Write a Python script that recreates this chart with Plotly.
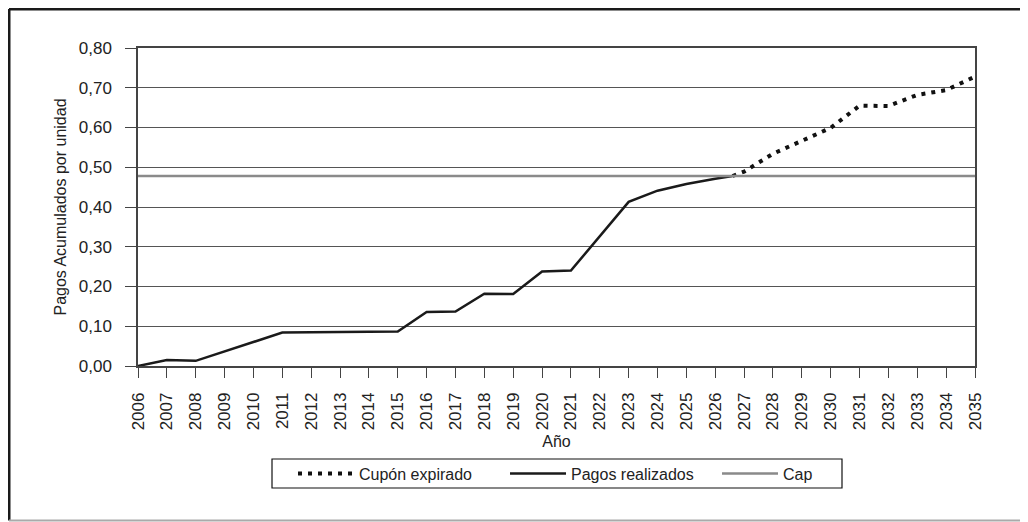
import plotly.graph_objects as go

# ---- data ----
years = list(range(2006, 2036))
tick_labels = [str(y) for y in years]

pagos_x = [2006, 2007, 2008, 2009, 2010, 2011, 2012, 2013, 2014, 2015, 2016,
           2017, 2018, 2019, 2020, 2021, 2022, 2023, 2024, 2025, 2026, 2026.6]
pagos_y = [0.000, 0.015, 0.013, 0.037, 0.060, 0.084, 0.085, 0.085, 0.086, 0.087,
           0.136, 0.137, 0.182, 0.181, 0.238, 0.240, 0.326, 0.413, 0.441, 0.458,
           0.471, 0.478]

cupon_x = [2026.6, 2027, 2028, 2029, 2030, 2031, 2032, 2033, 2034, 2035]
cupon_y = [0.478, 0.489, 0.534, 0.567, 0.599, 0.655, 0.654, 0.682, 0.694, 0.728]

cap_x = [2006, 2035]
cap_y = [0.478, 0.478]

y_ticks = [0.0, 0.1, 0.2, 0.3, 0.4, 0.5, 0.6, 0.7, 0.8]
y_tick_labels = ["0,00", "0,10", "0,20", "0,30", "0,40", "0,50", "0,60", "0,70", "0,80"]

FONT = "Liberation Sans, Arial, sans-serif"
INK = "#222222"

fig = go.Figure()
fig.add_trace(go.Scatter(
    x=cupon_x, y=cupon_y, mode="lines", name="Cupón expirado",
    line=dict(color="#111111", width=4, dash="4px,6px"),
))
fig.add_trace(go.Scatter(
    x=pagos_x, y=pagos_y, mode="lines", name="Pagos realizados",
    line=dict(color="#1a1a1a", width=2.5),
))
fig.add_trace(go.Scatter(
    x=cap_x, y=cap_y, mode="lines", name="Cap",
    line=dict(color="#8a8a8a", width=2.5),
))

fig.update_layout(
    width=1020, height=514,
    margin=dict(l=130, r=53, t=40, b=156),
    paper_bgcolor="white", plot_bgcolor="white",
    font=dict(family=FONT, size=16, color=INK),
    showlegend=True,
    legend=dict(
        orientation="h", x=0.1852, xanchor="left", y=-0.338, yanchor="middle",
        borderwidth=0, bgcolor="rgba(0,0,0,0)",
        font=dict(family=FONT, size=16, color=INK),
        itemwidth=56, entrywidth=141, traceorder="normal",
    ),
    xaxis=dict(
        range=[2006, 2035], tickmode="array", tickvals=years, ticktext=tick_labels,
        tickangle=-90, ticks="outside", ticklen=10, tickcolor="#444444",
        showline=True, linecolor="#444444", linewidth=1.5, mirror=True,
        showgrid=False, zeroline=False,
        tickfont=dict(family=FONT, size=17, color=INK),
        ticklabelstandoff=8,
        title=dict(text="Año", font=dict(family=FONT, size=16, color=INK), standoff=6),
    ),
    yaxis=dict(
        range=[0, 0.8], tickmode="array", tickvals=y_ticks, ticktext=y_tick_labels,
        ticks="outside", ticklen=11, tickcolor="#444444",
        showline=True, linecolor="#444444", linewidth=1.5, mirror=True,
        showgrid=True, gridcolor="#555555", gridwidth=1, zeroline=False,
        tickfont=dict(family=FONT, size=17, color=INK),
        ticklabelstandoff=10,
        title=dict(text="Pagos Acumulados por unidad",
                   font=dict(family=FONT, size=16, color=INK), standoff=8),
    ),
    shapes=[
        # outer frame
        dict(type="line", xref="paper", yref="paper",
             x0=-0.15412, x1=1.0601, y0=1.12264, y1=1.12264,
             line=dict(color="#1a1a1a", width=3)),
        dict(type="line", xref="paper", yref="paper",
             x0=-0.15412, x1=-0.15412, y0=1.12264, y1=-0.4858,
             line=dict(color="#1a1a1a", width=3)),
        dict(type="line", xref="paper", yref="paper",
             x0=1.0601, x1=1.0601, y0=1.12264, y1=-0.4858,
             line=dict(color="#1a1a1a", width=3)),
        dict(type="line", xref="paper", yref="paper",
             x0=-0.15412, x1=1.0601, y0=-0.4858, y1=-0.4858,
             line=dict(color="#aaaaaa", width=2)),
        # legend box
        dict(type="rect", xref="paper", yref="paper",
             x0=0.1601, x1=0.8411, y0=-0.2925, y1=-0.3836,
             line=dict(color="#111111", width=1.2), fillcolor="white", layer="below"),
    ],
)

fig.write_html("out.html")
